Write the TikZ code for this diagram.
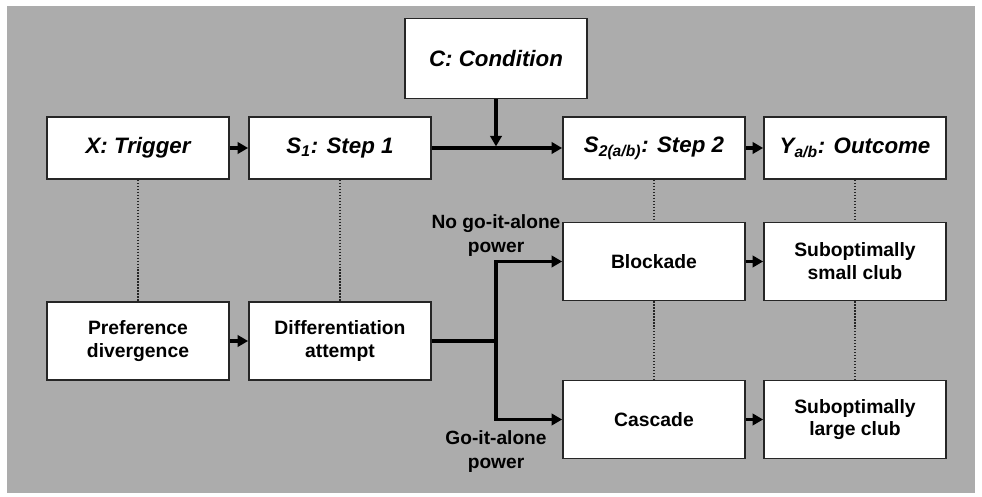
\documentclass[tikz,border=0pt]{standalone}
\usepackage{fontspec}
\setmainfont{Liberation Sans}
\usetikzlibrary{positioning, arrows.meta, calc}
\definecolor{panelgray}{RGB}{172,172,172}

\begin{document}
\begin{tikzpicture}[node distance=2cm, on grid,
  box/.style={draw=black!85, line width=1pt, fill=white, minimum width=3.64cm, minimum height=1.24cm, align=center, inner sep=0pt, font=\fontsize{12.7}{15}\selectfont\bfseries\itshape},
  lowbox/.style={box, minimum height=1.56cm, font=\fontsize{11}{13}\selectfont\bfseries},
  flow/.style={-{Triangle[length=6pt, width=6.5pt]}, line width=1.8pt},
  link/.style={densely dotted, line width=0.7pt, black!85},
  branch/.style={font=\fontsize{10.9}{13.6}\selectfont\bfseries, align=center}]

\useasboundingbox (-2.76,2.96) rectangle (16.88,-6.98);
\fill[panelgray] (-2.62,2.84) rectangle (16.74,-6.9);

% upper row
\node[box] (trig) {X: Trigger};
\node[box] (s1) [right=4.04cm of trig] {S\textsubscript{1}: Step 1};
\node[box] (s2) [right=6.28cm of s1] {S\textsubscript{2(a/b)}: Step 2};
\node[box] (out) [right=4.02cm of s2] {Y\textsubscript{a/b}: Outcome};
\node[box, minimum height=1.6cm] (cond) [above right=1.79cm and 3.12cm of s1] {C: Condition};

% lower rows
\node[lowbox] (pref) [below=3.86cm of trig] {Preference\\divergence};
\node[lowbox] (diff) [right=4.04cm of pref] {Differentiation\\attempt};
\node[lowbox] (block) [below=2.27cm of s2] {Blockade};
\node[lowbox] (small) [right=4.02cm of block] {Suboptimally\\small club};
\node[lowbox] (casc) [below=3.16cm of block] {Cascade};
\node[lowbox] (large) [right=4.02cm of casc] {Suboptimally\\large club};

\coordinate (join) at (cond |- s1.east);
\coordinate (split) at (cond |- diff.east);
\coordinate (upper) at (split |- block.west);
\coordinate (lower) at (split |- casc.west);

\node[branch] (nogo) at ([yshift=0.52cm]upper) {No go-it-alone\\power};
\node[branch] (go) at ([yshift=-0.64cm]lower) {Go-it-alone\\power};

% arrows
\draw[flow] (trig) -- (s1);
\draw[flow] (s1) -- (s2);
\draw[flow] (s2) -- (out);
\draw[flow, shorten >=0.9pt] (cond) -- (join);
\draw[flow] (pref) -- (diff);
\draw[flow] (diff.east) -- (split) |- (block.west);
\draw[flow] (split) |- (casc.west);
\draw[flow] (block) -- (small);
\draw[flow] (casc) -- (large);

% dotted links
\draw[link] (trig) -- (pref);
\draw[link] (s1) -- (diff);
\draw[link] (s2) -- (block);
\draw[link] (out) -- (small);
\draw[link] (block) -- (casc);
\draw[link] (small) -- (large);
\end{tikzpicture}
\end{document}
